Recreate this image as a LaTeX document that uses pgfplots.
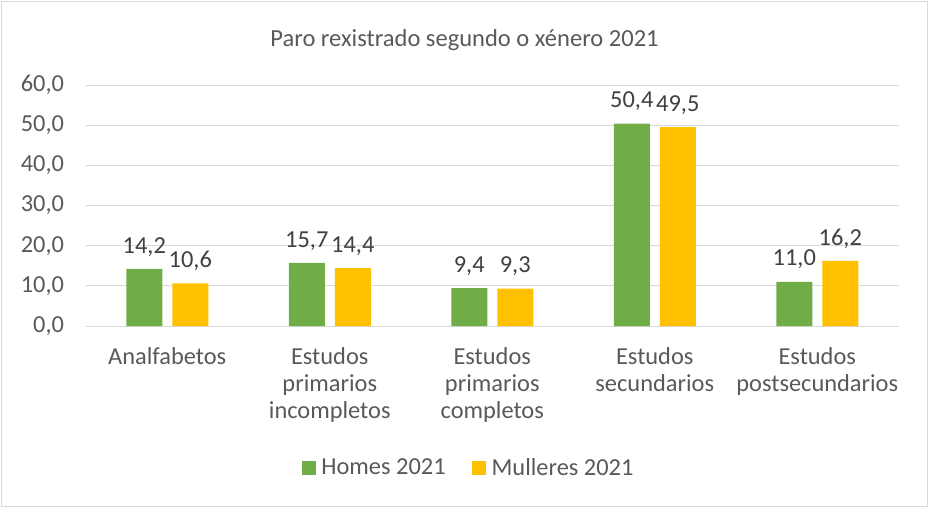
\documentclass[border=0pt]{standalone}
\usepackage{pgfplots}
\pgfplotsset{compat=1.18}
\usepackage{fontspec}
\setmainfont{Carlito}
\definecolor{hgreen}{HTML}{70AD47}
\definecolor{myellow}{HTML}{FFC000}
\definecolor{txt}{HTML}{595959}
\definecolor{lbl}{HTML}{404040}
\definecolor{gridc}{HTML}{D9D9D9}
\begin{document}
\begin{tikzpicture}
\useasboundingbox (0pt,0pt) rectangle (696.75pt,381pt);
\draw[gridc, line width=0.75pt] (1.125pt,1.125pt) rectangle (695.6pt,379.9pt);
\node[txt, font=\fontsize{18.4pt}{22pt}\selectfont] at (348.4pt,351pt) {Paro rexistrado segundo o xénero 2021};
\begin{axis}[
  at={(64.5pt,136.5pt)}, anchor=south west,
  scale only axis, width=609.4pt, height=180.75pt,
  ybar=7.5pt, bar width=27pt,
  xmin=-0.5, xmax=4.5, ymin=0, ymax=60,
  ytick distance=10,
  xtick={0,1,2,3,4},
  xticklabels={Analfabetos,{Estudos\\primarios\\incompletos},{Estudos\\primarios\\completos},{Estudos\\secundarios},{Estudos\\postsecundarios}},
  axis line style={draw=none},
  major tick length=0pt,
  ymajorgrids, grid style={gridc, line width=0.75pt},
  tick label style={txt, font=\fontsize{18.3pt}{20pt}\selectfont},
  xticklabel style={align=center, anchor=north, yshift=-13pt},
  yticklabel style={xshift=-13pt, /pgf/number format/.cd, fixed, fixed zerofill, precision=1, use comma, assume math mode=true},
  nodes near coords,
  nodes near coords style={lbl, font=\fontsize{18.3pt}{20pt}\selectfont, yshift=6pt, /pgf/number format/.cd, fixed, fixed zerofill, precision=1, use comma, assume math mode=true},
  legend style={draw=none, at={(0.4715,-0.589)}, anchor=center, legend columns=2, font=\fontsize{18.3pt}{20pt}\selectfont, text=txt, /tikz/every even column/.append style={column sep=18pt}, /tikz/every odd column/.append style={column sep=2pt}},
  legend image code/.code={\fill[#1] (0pt,-5.25pt) rectangle (10.5pt,5.25pt);},
]
\addplot[fill=hgreen, draw=none] coordinates {(0,14.2) (1,15.7) (2,9.4) (3,50.4) (4,11.0)};
\addplot[fill=myellow, draw=none] coordinates {(0,10.6) (1,14.4) (2,9.3) (3,49.5) (4,16.2)};
\legend{Homes 2021, Mulleres 2021}
\end{axis}
\end{tikzpicture}
\end{document}
